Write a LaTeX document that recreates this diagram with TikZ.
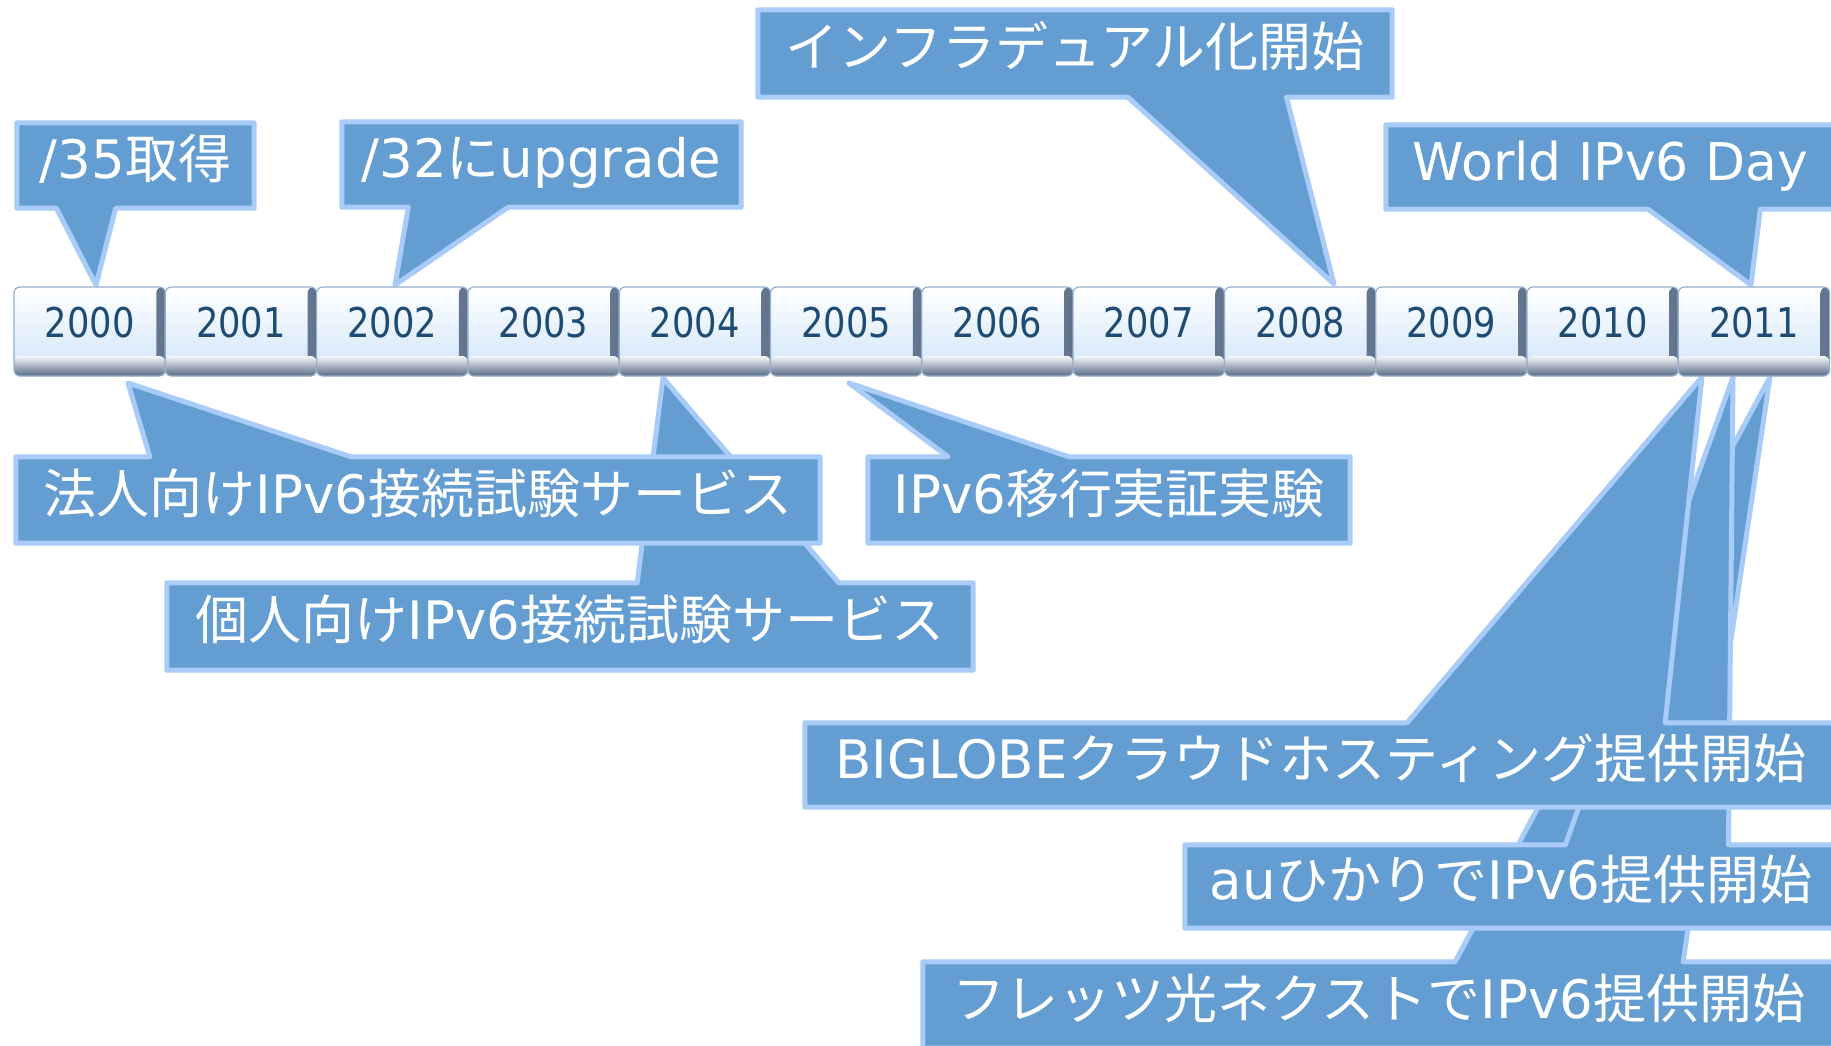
\documentclass[tikz,border=0pt]{standalone}
\usepackage{fontspec}
\newfontfamily\jpfont{Noto Sans CJK JP}
\newfontfamily\ltfont{DejaVu Sans}
\newfontfamily\yrfont[FakeStretch=0.86]{DejaVu Sans}
\newcommand\lat[1]{{\ltfont #1}}
\usetikzlibrary{calc}
\definecolor{cfill}{RGB}{99,157,209}
\definecolor{cline}{RGB}{168,203,247}
\definecolor{yrtext}{RGB}{30,75,115}
\definecolor{yrface}{RGB}{206,228,250}
\definecolor{yredge}{RGB}{150,175,205}
\definecolor{yrbevA}{RGB}{176,190,208}
\definecolor{yrbevB}{RGB}{96,114,140}
\definecolor{yrbotT}{RGB}{246,248,250}
\definecolor{yrbotM}{RGB}{186,197,211}
\definecolor{yrbotB}{RGB}{88,106,132}
\pgfdeclarelayer{back}
\pgfdeclarelayer{bg}
\pgfsetlayers{back,bg,main}
\begin{document}
\begin{tikzpicture}[x=1pt,y=-1pt,
  yearbox/.style={rectangle, rounded corners=6pt, minimum width=151.3pt,
    minimum height=89pt, inner sep=0pt, top color=white, bottom color=yrface,
    draw=yredge, line width=1.2pt, text=yrtext,
    font=\yrfont\fontsize{41}{41}\selectfont, text height=30pt, text depth=19pt,
    path picture={
      \shade[left color=yrbevA, right color=yrbevB]
        ($(path picture bounding box.north east)+(-9,0)$) rectangle (path picture bounding box.south east);
      \shade[top color=yrbotT, middle color=yrbotM, bottom color=yrbotB]
        ($(path picture bounding box.south west)+(0,-20)$) rectangle (path picture bounding box.south east);
    }},
  cbox/.style={rectangle, inner sep=0pt, text=white,
    font=\jpfont\fontsize{53}{53}\selectfont, text height=40pt, text depth=14pt},
  cshape/.style={fill=cfill, draw=cline, line width=5pt, line join=round}]

\useasboundingbox (0,0) rectangle (1831,1045);
\begin{pgfonlayer}{back}
\fill[white] (0,0) rectangle (1831,1045);
\end{pgfonlayer}

% timeline
\foreach \i in {0,...,11}{
  \pgfmathtruncatemacro\yr{2000+\i}
  \node[yearbox] (y\yr) at (89.65+151.3*\i,331.5) {\yr};
}

% tips
\coordinate (t35) at (96,285);
\coordinate (t32) at (395,285);
\coordinate (tinfra) at (1334,284);
\coordinate (tworld) at (1751,285);
\coordinate (tkojin) at (663,378);
\coordinate (thojin) at (128,383);
\coordinate (tikou) at (849,383);
\coordinate (tflets) at (1770,377);
\coordinate (tau) at (1733,377);
\coordinate (tbig) at (1702,377);

% callouts above the timeline
\node[cbox, minimum width=237pt, minimum height=85pt] (c35) at (135.5,165.5) {\lat{/35}取得};
\node[cbox, minimum width=399pt, minimum height=85pt] (c32) at (541.5,164.5) {\lat{/32}に\lat{upgrade}};
\node[cbox, minimum width=634pt, minimum height=87pt] (cinfra) at (1075,53.5) {インフラデュアル化開始};
\node[cbox, minimum width=449pt, minimum height=84pt, font=\ltfont\fontsize{52}{52}\selectfont] (cworld) at (1610.5,167) {World IPv6 Day};

% callouts below the timeline
\node[cbox, minimum width=806pt, minimum height=87pt] (ckojin) at (570,626.5) {個人向け\lat{IPv6}接続試験サービス};
\node[cbox, minimum width=804pt, minimum height=86pt] (chojin) at (418,500) {法人向け\lat{IPv6}接続試験サービス};
\node[cbox, minimum width=482pt, minimum height=86pt] (cikou) at (1109,500) {\lat{IPv6}移行実証実験};
\node[cbox, minimum width=912pt, minimum height=86pt] (cflets) at (1379,1005) {フレッツ光ネクストで\lat{IPv6}提供開始};
\node[cbox, minimum width=652pt, minimum height=83pt] (cau) at (1511,886.5) {\lat{au}ひかりで\lat{IPv6}提供開始};
\node[cbox, minimum width=1032pt, minimum height=84pt] (cbig) at (1321,765) {\lat{BIGLOBE}クラウドホスティング提供開始};

\begin{pgfonlayer}{bg}
% pointer below the box
\foreach \n/\t/\a/\b in {c35/t35/1/5, c32/t32/1/5}{
  \draw[cshape] (\n.north west) -- (\n.north east) -- (\n.south east)
    -- ($(\n.south west)!\b/12!(\n.south east)$) -- (\t)
    -- ($(\n.south west)!\a/6!(\n.south east)$) -- (\n.south west) -- cycle;
}
\foreach \n/\t in {cinfra/tinfra, cworld/tworld}{
  \draw[cshape] (\n.north west) -- (\n.north east) -- (\n.south east)
    -- ($(\n.south west)!5/6!(\n.south east)$) -- (\t)
    -- ($(\n.south west)!7/12!(\n.south east)$) -- (\n.south west) -- cycle;
}
% pointer above the box, drawn back to front
\foreach \n/\t/\a/\b in {ckojin/tkojin/7/10, chojin/thojin/2/5, cikou/tikou/2/5,
                         cflets/tflets/7/10, cau/tau/7/10, cbig/tbig/7/10}{
  \draw[cshape] (\n.north west) -- ($(\n.north west)!\a/12!(\n.north east)$) -- (\t)
    -- ($(\n.north west)!\b/12!(\n.north east)$) -- (\n.north east)
    -- (\n.south east) -- (\n.south west) -- cycle;
}
\end{pgfonlayer}
\end{tikzpicture}
\end{document}
